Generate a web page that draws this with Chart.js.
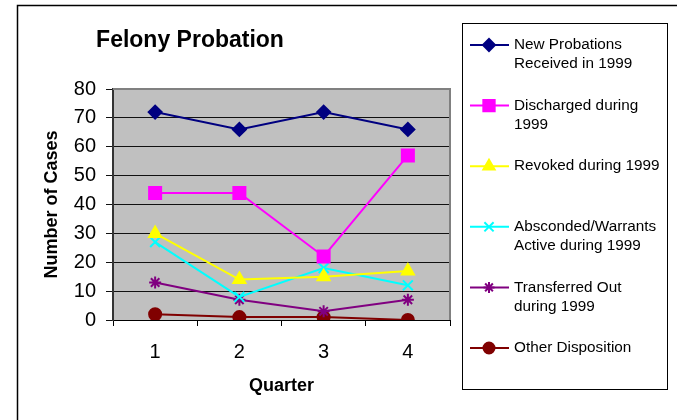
<!DOCTYPE html>
<html>
<head>
<meta charset="utf-8">
<script src="https://cdn.jsdelivr.net/npm/chart.js@4/dist/chart.umd.min.js"></script>
<style>
  html, body { margin: 0; padding: 0; background: #fff; }
  #wrap { width: 677px; height: 420px; }
</style>
</head>
<body>
<div id="wrap"><canvas id="chart" width="677" height="420"></canvas></div>
<script>
'use strict';

const quarters = ['1', '2', '3', '4'];
const newProbations = [72, 66, 72, 66];
const discharged = [44, 44, 22, 57];
const revoked = [30, 14, 15, 17];
const absconded = [27, 8, 18, 12];
const transferred = [13, 7, 3, 7];
const otherDisposition = [2, 1, 1, 0];

const seriesLabels = [
  ['New Probations', 'Received in 1999'],
  ['Discharged during', '1999'],
  ['Revoked during 1999'],
  ['Absconded/Warrants', 'Active during 1999'],
  ['Transferred Out', 'during 1999'],
  ['Other Disposition']
];

const FONT = '"Liberation Sans", Arial, sans-serif';

function series(label, data, color, style, radius) {
  return {
    label: label.join(' '),
    data: data,
    borderColor: color,
    backgroundColor: color,
    borderWidth: 2,
    pointStyle: style,
    pointRadius: radius,
    pointBackgroundColor: color,
    pointBorderColor: color,
    pointBorderWidth: 2,
    tension: 0
  };
}

// plot background, frame, title and the boxed legend
const decor = {
  id: 'decor',
  beforeDraw(chart) {
    const { ctx, chartArea: a } = chart;
    ctx.save();
    ctx.fillStyle = '#fff';
    ctx.fillRect(0, 0, chart.width, chart.height);
    ctx.fillStyle = '#c0c0c0';
    ctx.fillRect(a.left, a.top, a.right - a.left, a.bottom - a.top);
    ctx.restore();
  },
  afterDraw(chart) {
    const { ctx, chartArea: a } = chart;
    ctx.save();

    // grey plot border top / right
    ctx.strokeStyle = '#808080';
    ctx.lineWidth = 2;
    ctx.beginPath();
    ctx.moveTo(a.left, a.top);
    ctx.lineTo(a.right, a.top);
    ctx.lineTo(a.right, a.bottom);
    ctx.stroke();

    // outer frame (cropped)
    ctx.strokeStyle = '#000';
    ctx.lineWidth = 1.5;
    ctx.beginPath();
    ctx.moveTo(17.5, chart.height);
    ctx.lineTo(17.5, 5.5);
    ctx.lineTo(chart.width, 5.5);
    ctx.stroke();

    // title
    ctx.fillStyle = '#000';
    ctx.font = 'bold 23px ' + FONT;
    ctx.textAlign = 'center';
    ctx.textBaseline = 'middle';
    ctx.fillText('Felony Probation', 190, 41);

    // legend box
    ctx.strokeStyle = '#000';
    ctx.lineWidth = 1;
    ctx.strokeRect(462.5, 23.5, 205, 366);
    ctx.font = '15.3px ' + FONT;
    ctx.textAlign = 'left';
    chart.data.datasets.forEach((ds, i) => {
      const y = 45 + i * 60.6;
      ctx.strokeStyle = ds.borderColor;
      ctx.lineWidth = 2;
      ctx.beginPath();
      ctx.moveTo(470, y);
      ctx.lineTo(509, y);
      ctx.stroke();
      ctx.fillStyle = ds.pointBackgroundColor;
      ctx.strokeStyle = ds.pointBorderColor;
      if (Chart.helpers && Chart.helpers.drawPoint) {
        Chart.helpers.drawPoint(ctx, {
          pointStyle: ds.pointStyle, radius: ds.pointRadius - 0.5,
          borderWidth: ds.pointBorderWidth, rotation: 0
        }, 489, y);
      }
      ctx.fillStyle = '#000';
      seriesLabels[i].forEach((line, j) => ctx.fillText(line, 514, y + j * 19));
    });
    ctx.restore();
  }
};

new Chart(document.getElementById('chart'), {
  type: 'line',
  data: {
    labels: quarters,
    datasets: [
      series(seriesLabels[0], newProbations, '#000080', 'rectRot', 6.5),
      series(seriesLabels[1], discharged, '#ff00ff', 'rect', 8.5),
      series(seriesLabels[2], revoked, '#ffff00', 'triangle', 7),
      series(seriesLabels[3], absconded, '#00ffff', 'crossRot', 7),
      series(seriesLabels[4], transferred, '#800080', 'star', 6),
      series(seriesLabels[5], otherDisposition, '#800000', 'circle', 6)
    ]
  },
  options: {
    responsive: false,
    animation: false,
    layout: { padding: { left: 20, right: 227, top: 89, bottom: 0 } },
    plugins: {
      legend: { display: false },
      title: { display: false },
      tooltip: { enabled: false }
    },
    scales: {
      x: {
        offset: true,
        grid: { drawOnChartArea: false, drawTicks: true, tickLength: 6, color: '#000', offset: true },
        border: { color: '#000', width: 1 },
        ticks: { color: '#000', font: { family: FONT, size: 20 }, padding: 14 },
        title: {
          display: true, text: 'Quarter', color: '#000',
          font: { family: FONT, size: 18, weight: 'bold' },
          padding: { top: 0, bottom: 23 }
        },
        afterFit(s) { s.height = 100; }
      },
      y: {
        min: 0, max: 80,
        ticks: { stepSize: 10, color: '#000', font: { family: FONT, size: 20 }, padding: 10 },
        grid: { color: '#111', lineWidth: 1, tickLength: 7, drawTicks: true },
        border: { color: '#333', width: 2 },
        title: {
          display: true, text: 'Number of Cases', color: '#000',
          font: { family: FONT, size: 18, weight: 'bold' },
          padding: { top: 21, bottom: 0 }
        },
        afterFit(s) { s.width = 93; }
      }
    }
  },
  plugins: [decor]
});
</script>
</body>
</html>
